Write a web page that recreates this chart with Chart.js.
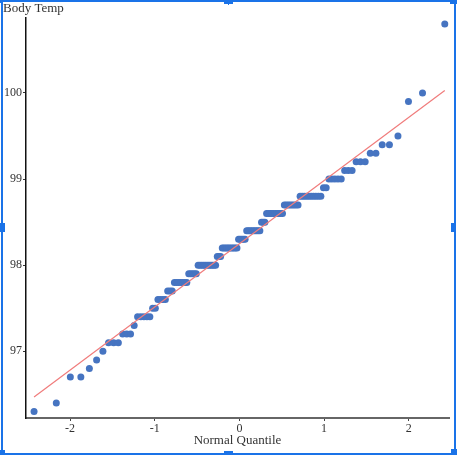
<!DOCTYPE html>
<html>
<head>
<meta charset="utf-8">
<script src="https://cdn.jsdelivr.net/npm/chart.js@4.4.1/dist/chart.umd.min.js"></script>
<style>
  html, body { margin: 0; padding: 0; background: #fff; }
  #wrap { position: relative; width: 457px; height: 455px; overflow: hidden; }
  #c { position: absolute; left: 0; top: 0; }
  .f { position: absolute; background: #1a73e8; }
</style>
</head>
<body>
<div id="wrap">
  <canvas id="c" width="457" height="455"></canvas>
  <div class="f" style="left:1px;top:0;width:2px;height:451px"></div>
  <div class="f" style="left:0;top:0;width:452px;height:2px"></div>
  <div class="f" style="left:454px;top:0;width:2px;height:455px"></div>
  <div class="f" style="left:0;top:453px;width:456px;height:2px"></div>
  <div class="f" style="left:0;top:0;width:3px;height:3px"></div>
  <div class="f" style="left:450px;top:0;width:7px;height:4px"></div>
  <div class="f" style="left:224px;top:0;width:9px;height:4px"></div>
  <div class="f" style="left:228px;top:4px;width:1px;height:1px"></div>
  <div class="f" style="left:0;top:223px;width:5px;height:9px"></div>
  <div class="f" style="left:451px;top:223px;width:5px;height:9px"></div>
  <div class="f" style="left:0;top:450px;width:5px;height:5px"></div>
  <div class="f" style="left:224px;top:451px;width:9px;height:4px"></div>
  <div class="f" style="left:451px;top:449px;width:6px;height:6px"></div>
</div>
<script>
// Observed body temperatures (sorted distinct values) and how many times each occurs
const tempValues = [96.3, 96.4, 96.7, 96.8, 96.9, 97.0, 97.1, 97.2, 97.3, 97.4, 97.5, 97.6, 97.7, 97.8, 97.9, 98.0, 98.1,
                    98.2, 98.3, 98.4, 98.5, 98.6, 98.7, 98.8, 98.9, 99.0, 99.1, 99.2, 99.3, 99.4, 99.5, 99.9, 100.0, 100.8];
const tempCounts = [1, 1, 2, 1, 1, 1, 3, 3, 1, 5, 2, 4, 3, 7, 5, 11, 3,
                    10, 5, 9, 3, 10, 8, 10, 2, 5, 3, 3, 2, 2, 1, 1, 1, 1];
// Reference line end points (normal quantile, temperature)
const refLineX = [-2.426, 2.426];
const refLineY = [96.47, 100.03];
const xTicks = [-2, -1, 0, 1, 2];
const yTicks = [97, 98, 99, 100];
const xTitle = 'Normal Quantile';
const yTitle = 'Body Temp';

// Inverse standard normal CDF (Acklam)
function qnorm(p) {
  const a = [-3.969683028665376e+01, 2.209460984245205e+02, -2.759285104469687e+02, 1.383577518672690e+02, -3.066479806614716e+01, 2.506628277459239e+00];
  const b = [-5.447609879822406e+01, 1.615858368580409e+02, -1.556989798598866e+02, 6.680131188771972e+01, -1.328068155288572e+01];
  const c = [-7.784894002430293e-03, -3.223964580411365e-01, -2.400758277161838e+00, -2.549732539343734e+00, 4.374664141464968e+00, 2.938163982698783e+00];
  const d = [7.784695709041462e-03, 3.224671290700398e-01, 2.445134137142996e+00, 3.754408661907416e+00];
  const pl = 0.02425, ph = 1 - pl;
  let q, r;
  if (p < pl) { q = Math.sqrt(-2 * Math.log(p));
    return (((((c[0]*q+c[1])*q+c[2])*q+c[3])*q+c[4])*q+c[5]) / ((((d[0]*q+d[1])*q+d[2])*q+d[3])*q+1); }
  if (p > ph) { q = Math.sqrt(-2 * Math.log(1 - p));
    return -(((((c[0]*q+c[1])*q+c[2])*q+c[3])*q+c[4])*q+c[5]) / ((((d[0]*q+d[1])*q+d[2])*q+d[3])*q+1); }
  q = p - 0.5; r = q * q;
  return (((((a[0]*r+a[1])*r+a[2])*r+a[3])*r+a[4])*r+a[5])*q / (((((b[0]*r+b[1])*r+b[2])*r+b[3])*r+b[4])*r+1);
}

const sorted = [];
tempValues.forEach((v, i) => { for (let k = 0; k < tempCounts[i]; k++) sorted.push(v); });
const n = sorted.length;
const points = sorted.map((v, i) => ({ x: qnorm((i + 1) / (n + 1)), y: v }));
const linePts = refLineX.map((x, i) => ({ x: x, y: refLineY[i] }));

const serif = "'Liberation Serif', 'Times New Roman', serif";

const titles = {
  id: 'titles',
  afterDraw(chart) {
    const ctx = chart.ctx, a = chart.chartArea;
    ctx.save();
    ctx.fillStyle = '#333';
    ctx.font = '13px ' + serif;
    ctx.textBaseline = 'middle';
    ctx.textAlign = 'left';
    ctx.fillText(yTitle, 3, 9);
    ctx.textAlign = 'center';
    ctx.fillText(xTitle, (a.left + a.right) / 2, 441);
    ctx.restore();
  }
};

new Chart(document.getElementById('c'), {
  type: 'scatter',
  data: {
    datasets: [
      { type: 'line', data: linePts, borderColor: '#f07c7c', borderWidth: 1.2, pointRadius: 0, fill: false, tension: 0 },
      { data: points, backgroundColor: '#4674c1', borderColor: '#4674c1', borderWidth: 0, pointRadius: 3.5 }
    ]
  },
  options: {
    responsive: false,
    animation: false,
    layout: { padding: { left: 0, top: 18, right: 8, bottom: 0 } },
    plugins: { legend: { display: false }, tooltip: { enabled: false } },
    scales: {
      x: {
        type: 'linear', min: -2.521, max: 2.476,
        afterFit(s) { s.height = 37; },
        afterBuildTicks(s) { s.ticks = xTicks.map(v => ({ value: v })); },
        border: { display: true, color: '#666', width: 2 },
        grid: { drawOnChartArea: false, drawTicks: true, tickLength: 3, color: '#444' },
        ticks: { color: '#333', padding: 1, font: { family: serif, size: 12 }, maxRotation: 0 }
      },
      y: {
        type: 'linear', min: 96.225, max: 100.871,
        afterFit(s) { s.width = 26; },
        afterBuildTicks(s) { s.ticks = yTicks.map(v => ({ value: v })); },
        border: { display: true, color: '#111', width: 1.5 },
        grid: { drawOnChartArea: false, drawTicks: true, tickLength: 3, color: '#333' },
        ticks: { color: '#333', padding: 1, font: { family: serif, size: 12 } }
      }
    }
  },
  plugins: [titles]
});
</script>
</body>
</html>
